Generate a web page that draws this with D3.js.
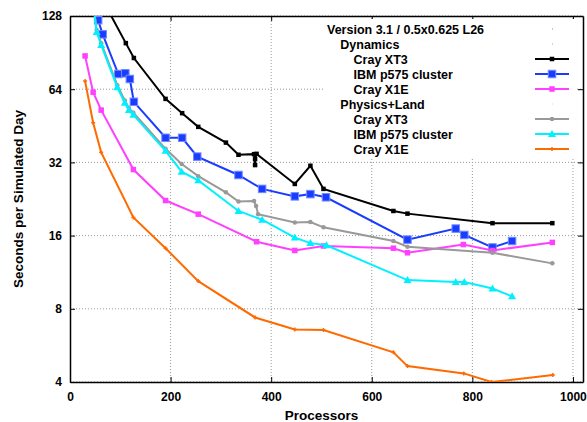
<!DOCTYPE html>
<html lang="en">
<head>
    <meta charset="UTF-8">
    <title>Seconds per Simulated Day</title>
    <style>
        body { margin: 0; background: #fff; font-family: "Liberation Sans", Arial, sans-serif; }
        text { font-weight: bold; fill: #000; }
        .grid line { stroke: #999; stroke-width: 1; stroke-dasharray: 1,2; }
    </style>
</head>
<body>
    <div id="chart"></div>
    <script src="https://d3js.org/d3.v7.min.js"></script>
    <script>
        // tick labels
        var xTicks = [0, 200, 400, 600, 800, 1000];
        var yTicks = [4, 8, 16, 32, 64, 128];

        // Dynamics
        var xt3Dyn = [[64, 150], [111, 99], [127, 86], [190, 58.4], [223, 51], [255, 44.8], [310, 38.6],
            [335, 34.4], [366, 34.6], [368, 31.2], [368, 33.0], [371, 34.7], [447, 26.1], [478, 31.0],
            [504, 24.9], [643, 20.2], [671, 19.7], [840, 18.0], [959, 18.0]];
        var ibmDyn = [[48, 150], [56, 123], [65, 107.6], [96, 73.9], [110, 74.4], [119, 70.5], [127, 56.8],
            [190, 40.4], [223, 40.4], [253, 33.8], [335, 28.4], [382, 24.9], [447, 23.2], [478, 23.7],
            [509, 23.0], [671, 15.4], [767, 17.1], [784, 16.1], [840, 14.3], [879, 15.2]];
        var x1eDyn = [[30, 87.7], [46, 62.2], [62, 52.5], [126, 29.9], [190, 22.3], [255, 19.6], [371, 15.1],
            [447, 13.9], [504, 14.5], [643, 14.2], [671, 13.6], [782, 14.7], [840, 13.9], [959, 15.0]];

        // Physics+Land
        var xt3Phys = [[46, 150], [53, 112], [62, 99], [94, 66.5], [109, 57.5], [117, 53.5], [126, 51.2],
            [190, 36.4], [222, 31.5], [255, 28.1], [310, 24.1], [335, 22.1], [366, 22.2], [370, 21.2],
            [374, 19.6], [447, 18.1], [478, 18.2], [504, 17.3], [643, 15.2], [671, 14.4], [840, 13.6], [959, 12.3]];
        var ibmPhys = [[45, 150], [53, 110], [62, 97.3], [94, 65.2], [109, 56.3], [117, 52.5], [126, 50.2],
            [190, 35.7], [222, 29.3], [255, 27.0], [335, 20.2], [382, 18.6], [447, 15.7], [478, 14.9],
            [510, 14.6], [671, 10.5], [767, 10.3], [784, 10.3], [840, 9.7], [879, 9.0]];
        var x1ePhys = [[30, 69.1], [46, 46.6], [62, 35.2], [126, 19.0], [190, 14.2], [255, 10.4], [368, 7.37],
            [447, 6.58], [504, 6.54], [643, 5.30], [671, 4.65], [783, 4.34], [838, 4.0], [960, 4.27]];

        var series = [
            {name: "Cray XT3", data: xt3Dyn, color: "#000000", mark: "square", size: 4.5},
            {name: "IBM p575 cluster", data: ibmDyn, color: "#1a3cff", mark: "square", size: 7.5},
            {name: "Cray X1E", data: x1eDyn, color: "#ff40ff", mark: "square", size: 5.5},
            {name: "Cray XT3", data: xt3Phys, color: "#999999", mark: "circle", size: 4.5},
            {name: "IBM p575 cluster", data: ibmPhys, color: "#00f0ff", mark: "triangle", size: 8},
            {name: "Cray X1E", data: x1ePhys, color: "#ff6a00", mark: "plus", size: 4}
        ];

        var width = 587, height = 422;
        var margin = {left: 70, right: 4, top: 16, bottom: 40};
        var xMax = 1020;

        var svg = d3.select("#chart").append("svg")
            .attr("width", width)
            .attr("height", height);

        var x = d3.scaleLinear().domain([0, xMax]).range([margin.left, width - margin.right]);
        var y = d3.scaleLog().base(2).domain([4, 128]).range([height - margin.bottom, margin.top]);

        svg.append("defs").append("clipPath").attr("id", "clip")
            .append("rect")
            .attr("x", x(0)).attr("y", y(128))
            .attr("width", x(xMax) - x(0)).attr("height", y(4) - y(128));

        // grid
        var grid = svg.append("g").attr("class", "grid");
        grid.selectAll(".gx").data(xTicks.slice(1)).enter().append("line")
            .attr("x1", function(d) { return x(d); }).attr("x2", function(d) { return x(d); })
            .attr("y1", y(4)).attr("y2", y(128));
        grid.selectAll(".gy").data(yTicks).enter().append("line")
            .attr("x1", x(0)).attr("x2", x(xMax))
            .attr("y1", function(d) { return y(d); }).attr("y2", function(d) { return y(d); });

        // axes with gnuplot-style inward ticks on all four sides
        var fmt = function(d) { return d; };
        svg.append("g").attr("transform", "translate(0," + y(4) + ")")
            .call(d3.axisBottom(x).tickValues(xTicks).tickFormat(fmt).tickSizeInner(-5).tickSizeOuter(0).tickPadding(10));
        svg.append("g").attr("transform", "translate(0," + y(128) + ")")
            .call(d3.axisTop(x).tickValues(xTicks).tickFormat("").tickSizeInner(-5).tickSizeOuter(0));
        svg.append("g").attr("transform", "translate(" + x(0) + ",0)")
            .call(d3.axisLeft(y).tickValues(yTicks).tickFormat(fmt).tickSizeInner(-5).tickSizeOuter(0).tickPadding(8));
        svg.append("g").attr("transform", "translate(" + x(xMax) + ",0)")
            .call(d3.axisRight(y).tickValues(yTicks).tickFormat("").tickSizeInner(-5).tickSizeOuter(0));
        svg.selectAll(".domain").attr("stroke", "#000").attr("stroke-width", 1.5);
        svg.selectAll(".tick line").attr("stroke", "#000");
        svg.selectAll(".tick text").style("font-size", "12px").style("font-weight", "bold")
            .style("font-family", "'Liberation Sans', Arial, sans-serif");

        svg.append("text")
            .attr("x", (x(0) + x(1000)) / 2).attr("y", 420)
            .attr("text-anchor", "middle").style("font-size", "13.5px")
            .text("Processors");
        svg.append("text")
            .attr("transform", "translate(23," + ((y(4) + y(128)) / 2) + ") rotate(-90)")
            .attr("text-anchor", "middle").style("font-size", "13.5px")
            .text("Seconds per Simulated Day");

        // legend background
        svg.append("rect")
            .attr("x", 325).attr("y", 19).attr("width", 252).attr("height", 138)
            .attr("fill", "#fff");

        function drawMark(g, s, px, py) {
            var r = s.size / 2;
            if (s.mark === "square") {
                g.append("rect").attr("x", px - r).attr("y", py - r)
                    .attr("width", s.size).attr("height", s.size)
                    .attr("fill", s.color)
                    .attr("stroke", s.size > 7 ? "#6f8bff" : "none")
                    .attr("stroke-width", 1);
            } else if (s.mark === "circle") {
                g.append("circle").attr("cx", px).attr("cy", py).attr("r", r).attr("fill", s.color);
            } else if (s.mark === "triangle") {
                g.append("path")
                    .attr("d", "M" + px + "," + (py - r) + "L" + (px + r) + "," + (py + r * 0.75) + "L" + (px - r) + "," + (py + r * 0.75) + "Z")
                    .attr("fill", s.color);
            } else {
                g.append("path")
                    .attr("d", "M" + (px - r) + "," + py + "H" + (px + r) + "M" + px + "," + (py - r) + "V" + (py + r))
                    .attr("stroke", s.color).attr("stroke-width", 1.5);
            }
        }

        var line = d3.line()
            .x(function(d) { return x(d[0]); })
            .y(function(d) { return y(d[1]); });

        var plot = svg.append("g").attr("clip-path", "url(#clip)");
        series.forEach(function(s) {
            var g = plot.append("g");
            g.append("path").datum(s.data)
                .attr("d", line)
                .attr("fill", "none")
                .attr("stroke", s.color)
                .attr("stroke-width", 2);
            s.data.forEach(function(d) { drawMark(g, s, x(d[0]), y(d[1])); });
        });

        // legend
        var legendRows = [
            {label: "Version 3.1 / 0.5x0.625 L26", indent: 0, dot: "#ff6a4a"},
            {label: "Dynamics", indent: 1, dot: "#66dd66"},
            {label: series[0].name, indent: 2, s: series[0]},
            {label: series[1].name, indent: 2, s: series[1]},
            {label: series[2].name, indent: 2, s: series[2]},
            {label: "Physics+Land", indent: 1, dot: "#eeee55"},
            {label: series[3].name, indent: 2, s: series[3]},
            {label: series[4].name, indent: 2, s: series[4]},
            {label: series[5].name, indent: 2, s: series[5]}
        ];
        var legend = svg.append("g");
        legendRows.forEach(function(row, i) {
            var cy = 29 + i * 15;
            legend.append("text")
                .attr("x", 327 + row.indent * 13.3).attr("y", cy + 4.5)
                .style("font-size", "12.5px")
                .text(row.label);
            if (row.s) {
                legend.append("line")
                    .attr("x1", 535).attr("x2", 569).attr("y1", cy).attr("y2", cy)
                    .attr("stroke", row.s.color).attr("stroke-width", 2);
                drawMark(legend, row.s, 552, cy);
            } else {
                legend.append("rect").attr("x", 552).attr("y", cy - 0.5)
                    .attr("width", 1).attr("height", 1).attr("fill", row.dot);
            }
        });
    </script>
</body>
</html>
